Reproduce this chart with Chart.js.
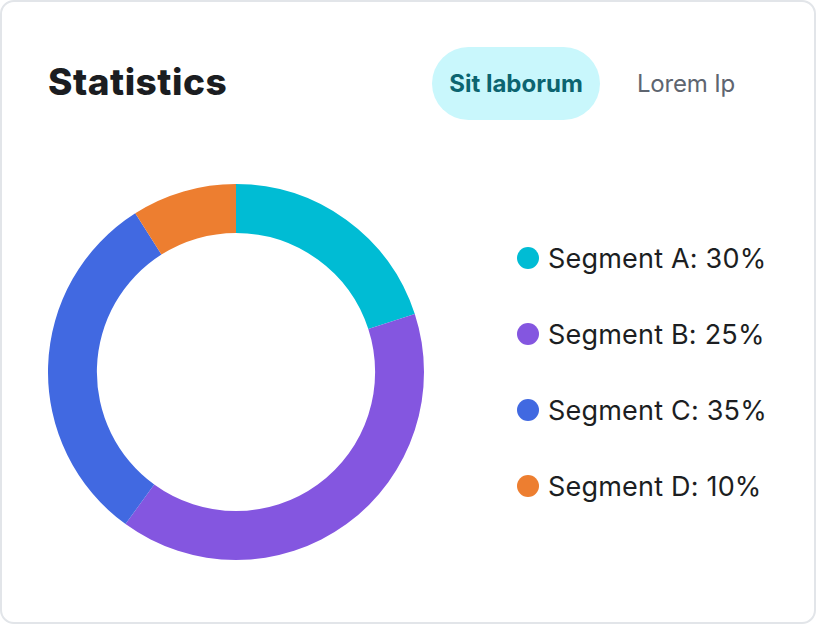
<!DOCTYPE html>
<html>
<head>
<meta charset="utf-8">
<script src="https://cdn.jsdelivr.net/npm/chart.js@4"></script>
<style>
  html, body { margin: 0; padding: 0; background: #ffffff; }
  body { width: 816px; height: 624px; position: relative; overflow: hidden; font-family: Inter, "Noto Sans", sans-serif; }
  .card { position: absolute; left: 0; top: 0; width: 816px; height: 624px; box-sizing: border-box;
          border: 2px solid #e2e5e9; border-radius: 14px; background: #fff; }
  .title { position: absolute; left: 48px; top: 58px; font-size: 37px; font-weight: 800; color: #1b1d21;
           line-height: 48px; letter-spacing: 0.5px; }
  .pill { position: absolute; left: 432px; top: 47px; width: 168px; height: 73px; border-radius: 37px;
          background: #c9f7fc; color: #0c6470; font-size: 24px; font-weight: 700; line-height: 73px;
          text-align: center; letter-spacing: 0px; }
  .tab2 { position: absolute; left: 637px; top: 47px; height: 73px; line-height: 73px; font-size: 24px;
          color: #5e6570; font-weight: 400; letter-spacing: -0.2px; }
  #wrap { position: absolute; left: 48px; top: 184px; width: 376px; height: 376px; }
  .legend { position: absolute; left: 517px; top: 0; }
  .item { position: absolute; left: 0; height: 40px; display: flex; align-items: center; white-space: nowrap;
          font-size: 27px; color: #1c1e22; letter-spacing: 0.2px; }
  .dot { width: 22px; height: 22px; border-radius: 50%; margin-right: 9px; flex: none; }
</style>
</head>
<body>
<div class="card"></div>
<div class="title">Statistics</div>
<div class="pill" id="tab1"></div>
<div class="tab2" id="tab2"></div>
<div id="wrap"><canvas id="c" width="376" height="376"></canvas></div>
<div class="legend" id="legend"></div>
<script>
const tabLabels = ["Sit laborum", "Lorem Ip"];
const categories = ["Segment A", "Segment B", "Segment C", "Segment D"];
const sliceValues = [20, 40, 31, 9];
const legendPercents = [30, 25, 35, 10];
const sliceColors = ["#00bcd4", "#8456e0", "#4169e1", "#ed7e30"];

document.getElementById("tab1").textContent = tabLabels[0];
document.getElementById("tab2").textContent = tabLabels[1];

const legend = document.getElementById("legend");
const rowCenters = [258, 334, 410, 486];
categories.forEach((c, i) => {
  const row = document.createElement("div");
  row.className = "item";
  row.style.top = (rowCenters[i] - 20) + "px";
  const dot = document.createElement("span");
  dot.className = "dot";
  dot.style.background = sliceColors[i];
  const txt = document.createElement("span");
  txt.textContent = c + ": " + legendPercents[i] + "%";
  row.appendChild(dot);
  row.appendChild(txt);
  legend.appendChild(row);
});

new Chart(document.getElementById("c"), {
  type: "doughnut",
  data: {
    labels: categories,
    datasets: [{
      data: sliceValues,
      backgroundColor: sliceColors,
      borderWidth: 0,
      hoverOffset: 0
    }]
  },
  options: {
    responsive: false,
    animation: false,
    cutout: "74%",
    layout: { padding: 0 },
    plugins: { legend: { display: false }, tooltip: { enabled: false } }
  }
});
</script>
</body>
</html>
